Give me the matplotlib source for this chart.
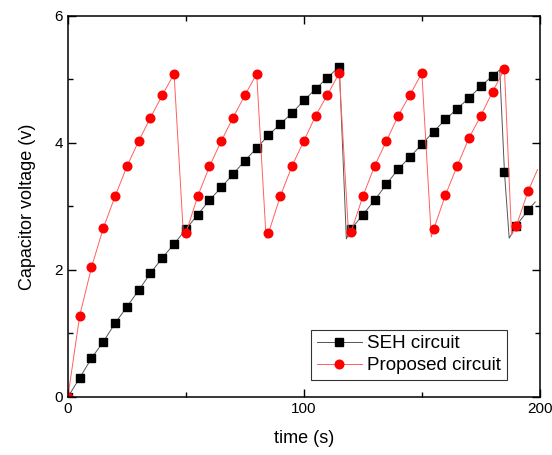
import numpy as np
import matplotlib
matplotlib.use("Agg")
import matplotlib.pyplot as plt
from matplotlib.ticker import MultipleLocator

plt.rcParams['font.family'] = ['Liberation Sans', 'DejaVu Sans']

# SEH circuit (line points; markers only where t is a multiple of 5)
seh_t = [0, 5, 10, 15, 20, 25, 30, 35, 40, 45, 50, 55, 60, 65, 70, 75, 80, 85,
         90, 95, 100, 105, 110, 115, 118, 120, 125, 130, 135, 140, 145, 150,
         155, 160, 165, 170, 175, 180, 183, 185, 187, 190, 195, 198]
seh_v = [0.0, 0.30, 0.61, 0.87, 1.16, 1.42, 1.68, 1.95, 2.19, 2.41, 2.64, 2.87,
         3.10, 3.30, 3.51, 3.72, 3.92, 4.12, 4.30, 4.47, 4.67, 4.85, 5.03, 5.20,
         2.49, 2.64, 2.87, 3.10, 3.35, 3.59, 3.78, 3.98, 4.18, 4.37, 4.54, 4.71,
         4.89, 5.06, 5.15, 3.54, 2.50, 2.70, 2.94, 3.07]

# proposed circuit
prop_t = [0, 5, 10, 15, 20, 25, 30, 35, 40, 45, 49, 50, 55, 60, 65, 70, 75, 80,
          84, 85, 90, 95, 100, 105, 110, 115, 119, 120, 125, 130, 135, 140, 145,
          150, 154, 155, 160, 165, 170, 175, 180, 185, 188, 190, 195, 199]
prop_v = [0.0, 1.28, 2.04, 2.66, 3.16, 3.63, 4.03, 4.40, 4.75, 5.09, 2.52, 2.58,
          3.16, 3.63, 4.03, 4.40, 4.75, 5.09, 2.50, 2.58, 3.16, 3.64, 4.03, 4.43,
          4.76, 5.10, 2.52, 2.60, 3.16, 3.64, 4.03, 4.43, 4.76, 5.10, 2.52, 2.64,
          3.18, 3.64, 4.08, 4.43, 4.81, 5.16, 2.55, 2.69, 3.24, 3.58]

seh_mark = [t % 5 == 0 and t <= 195 for t in seh_t]
prop_mark = [t % 5 == 0 and t <= 195 for t in prop_t]

fig = plt.figure(figsize=(5.52, 4.55), dpi=100)
ax = fig.add_axes([0.123, 0.1275, 0.855, 0.8375])

ax.plot(seh_t, seh_v, color='#555555', lw=0.7, marker='s', ms=5.2,
        mfc='black', mec='black', markevery=seh_mark, label='SEH circuit')
ax.plot(prop_t, prop_v, color='#ff6060', lw=0.7, marker='o', ms=6.2,
        mfc='red', mec='red', markevery=prop_mark, label='Proposed circuit')

ax.set_xlim(0, 200)
ax.set_ylim(0, 6)
ax.xaxis.set_major_locator(MultipleLocator(100))
ax.xaxis.set_minor_locator(MultipleLocator(50))
ax.yaxis.set_major_locator(MultipleLocator(2))
ax.yaxis.set_minor_locator(MultipleLocator(1))
ax.tick_params(which='both', direction='in', top=True, right=True,
               labelsize=11, width=1)
ax.tick_params(which='major', length=5.5)
ax.tick_params(which='minor', length=3.5)
for s in ax.spines.values():
    s.set_linewidth(1.1)

ax.set_xlabel('time (s)', fontsize=13, labelpad=10)
ax.set_ylabel('Capacitor voltage (v)', fontsize=13, labelpad=13)

leg = ax.legend(loc='lower right', bbox_to_anchor=(0.93, 0.045), fontsize=13.5,
                frameon=True, fancybox=False, borderpad=0.3, handlelength=2.4,
                handletextpad=0.3, labelspacing=0.25, borderaxespad=0)
leg.get_frame().set_edgecolor('black')
leg.get_frame().set_linewidth(0.8)

fig.savefig('out.png', dpi=100)
